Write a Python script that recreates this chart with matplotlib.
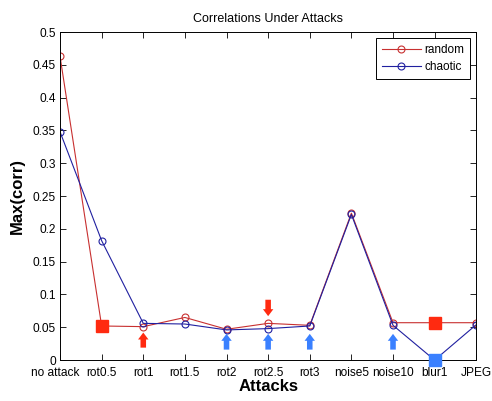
import matplotlib
matplotlib.use('Agg')
import matplotlib.pyplot as plt
import matplotlib.transforms as mtransforms

plt.rcParams['font.family'] = ['Liberation Sans', 'DejaVu Sans']

# attack names and peak correlation per scheme
attacks = ['no attack', 'rot0.5', 'rot1', 'rot1.5', 'rot2', 'rot2.5',
           'rot3', 'noise5', 'noise10', 'blur1', 'JPEG']
random_corr = [0.463, 0.052, 0.051, 0.065, 0.047, 0.056,
               0.053, 0.224, 0.057, 0.057, 0.057]
chaotic_corr = [0.348, 0.182, 0.056, 0.055, 0.046, 0.048,
                0.052, 0.222, 0.053, 0.0, 0.054]

# highlighted points (index into attacks)
red_boxes = [1, 9]
blue_boxes = [9]

# arrow markers (index into attacks)
up_red = [2]
up_blue = [4, 5, 6, 8]
down_red = [5]

RED = '#ff2a10'
BLUE = '#3a80ff'

x = list(range(1, len(attacks) + 1))

fig = plt.figure(figsize=(4.92, 4.01), dpi=100)
ax = fig.add_axes([0.122, 0.102, 0.846, 0.818])

ax.plot(x, random_corr, '-o', color='#c83030', lw=0.8, ms=5,
        mfc='none', mew=0.8, label='random')
ax.plot(x, chaotic_corr, '-o', color='#2020a0', lw=0.8, ms=5,
        mfc='none', mew=0.8, label='chaotic')

ax.plot([x[i] for i in red_boxes], [random_corr[i] for i in red_boxes],
        's', color=RED, ms=9, clip_on=False, zorder=5)
ax.plot([x[i] for i in blue_boxes], [chaotic_corr[i] for i in blue_boxes],
        's', color=BLUE, ms=9, clip_on=False, zorder=5)

arrow = 'simple,head_width=0.75,head_length=0.5,tail_width=0.4'


def draw_arrow(xi, tip, tail, colour):
    ax.annotate('', xy=(xi, tip), xytext=(xi, tail),
                arrowprops=dict(arrowstyle=arrow, color=colour, lw=0,
                                mutation_scale=10, shrinkA=0, shrinkB=0))


for i in up_red:
    draw_arrow(x[i], 0.042, 0.019, RED)
for i in up_blue:
    draw_arrow(x[i], 0.040, 0.016, BLUE)
for i in down_red:
    draw_arrow(x[i], 0.067, 0.092, RED)

ax.set_xlim(1, 11)
ax.set_ylim(0, 0.5)
ax.set_xticks(x)
ax.set_xticklabels(attacks)
ax.set_yticks([0, 0.05, 0.1, 0.15, 0.2, 0.25, 0.3, 0.35, 0.4, 0.45, 0.5])
ax.set_yticklabels(['0', '0.05', '0.1', '0.15', '0.2', '0.25', '0.3',
                    '0.35', '0.4', '0.45', '0.5'])
ax.tick_params(direction='in', top=True, right=True, length=4,
               width=0.6, labelsize=8.6)
ax.tick_params(axis='x', pad=5)
ax.tick_params(axis='y', pad=3)
for s in ax.spines.values():
    s.set_linewidth(0.7)

# nudge the first label left so it clears its neighbour
first = ax.get_xticklabels()[0]
first.set_transform(first.get_transform() +
                    mtransforms.ScaledTranslation(-5 / 100, 0, fig.dpi_scale_trans))

ax.set_title('Correlations Under Attacks', fontsize=9, pad=7)
ax.set_xlabel('Attacks', fontsize=12, fontweight='bold', labelpad=0)
ax.set_ylabel('Max(corr)', fontsize=12, fontweight='bold', labelpad=6)

leg = ax.legend(loc='upper right', fontsize=8.5, fancybox=False,
                edgecolor='black', framealpha=1, handlelength=3.3,
                handletextpad=0.3, borderaxespad=0.5, borderpad=0.5,
                labelspacing=0.45)
leg.get_frame().set_linewidth(0.7)

fig.savefig('out.png', dpi=100)
